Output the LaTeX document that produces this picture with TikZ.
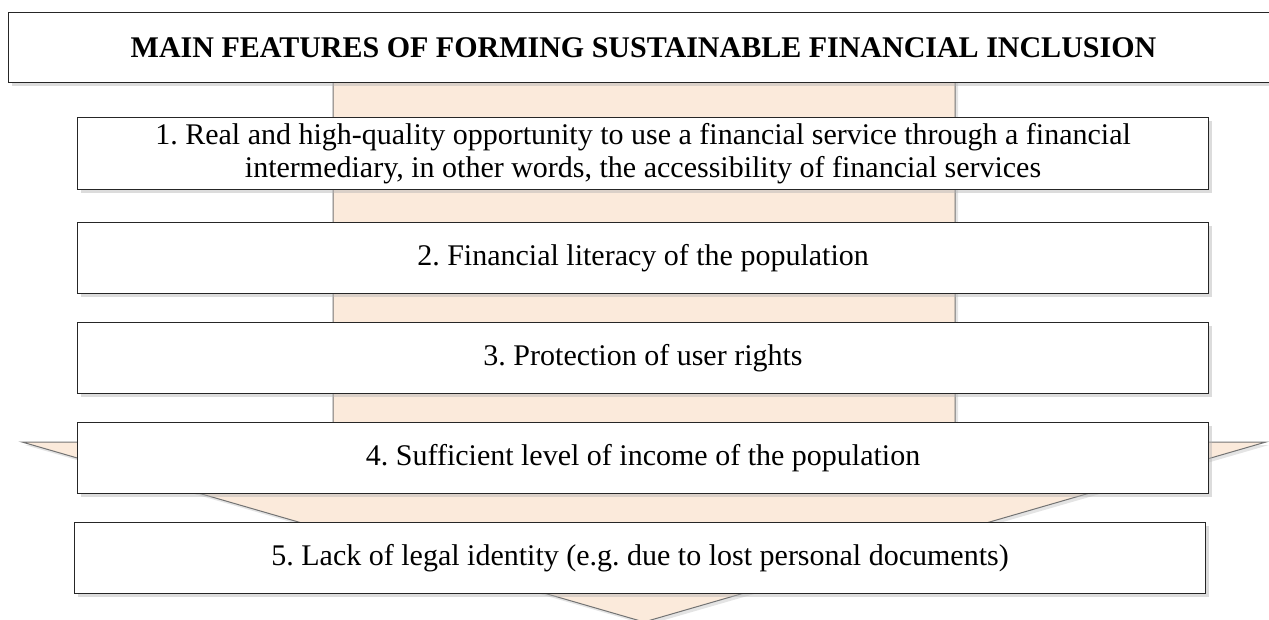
\documentclass[tikz,border=0pt]{standalone}
\usepackage{fontspec}
\setmainfont{Liberation Serif}
\usetikzlibrary{shadows}
\frenchspacing

\definecolor{peach}{RGB}{251,234,219}

\tikzset{
  featbox/.style={draw=black!85, line width=1.1pt, fill=white, rectangle,
    anchor=north west, minimum width=1131pt, minimum height=71pt,
    align=center, inner sep=0pt,
    font=\fontsize{30}{33.5}\selectfont,
    drop shadow={shadow xshift=3pt, shadow yshift=-3pt, fill=black!30, opacity=.45}},
  headbox/.style={featbox, minimum width=1270pt, minimum height=70pt,
    font=\fontsize{30}{33}\selectfont\bfseries},
  bigarrow/.style={draw=black!55, line width=1pt, fill=peach,
    drop shadow={shadow xshift=3pt, shadow yshift=-3pt, fill=black!30, opacity=.35}}
}

\begin{document}
\begin{tikzpicture}[x=1pt, y=-1pt]
    \useasboundingbox (0,0) rectangle (1269,619);
    \clip (0,0) rectangle (1269,619);

    % wide arrow behind the boxes
    \path[bigarrow] (333,60) -- (333,442) -- (22,442) -- (644,622)
        -- (1266,442) -- (955,442) -- (955,60) -- cycle;

    % heading
    \node[headbox] (title) at (8,12)
        {MAIN FEATURES OF FORMING SUSTAINABLE FINANCIAL INCLUSION};

    % the five features
    \node[featbox, minimum height=72pt] (f1) at (77,117)
        {1. Real and high-quality opportunity to use a financial service through a financial\\
         intermediary, in other words, the accessibility of financial services};
    \node[featbox] (f2) at (77,222) {2. Financial literacy of the population};
    \node[featbox] (f3) at (77,322) {3. Protection of user rights};
    \node[featbox] (f4) at (77,422) {4. Sufficient level of income of the population};
    \node[featbox] (f5) at (74,522) {5. Lack of legal identity (e.g. due to lost personal documents)};

\end{tikzpicture}
\end{document}
